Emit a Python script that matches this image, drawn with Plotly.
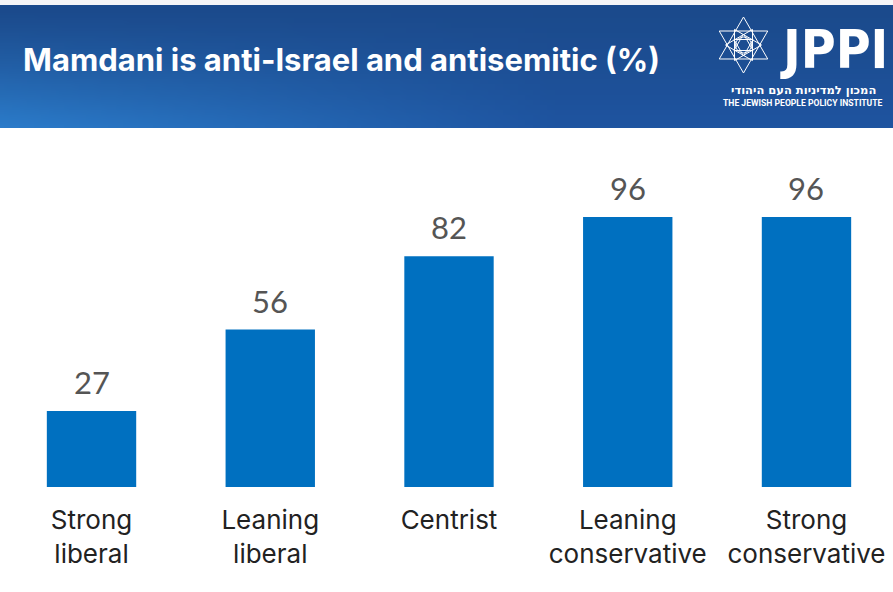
import base64, struct, zlib, math
import plotly.graph_objects as go

categories = ["Strong<br>liberal", "Leaning<br>liberal", "Centrist", "Leaning<br>conservative", "Strong<br>conservative"]
values = [27, 56, 82, 96, 96]
title_text = "Mamdani is anti-Israel and antisemitic (%)"

W, H = 893, 592
def px(x): return x / W
def py(y): return 1 - y / H

# ---- gradient header image (tiny PNG built in memory) ----
def make_png(w, h, pixel):
    raw = b""
    for j in range(h):
        row = bytearray([0])
        for i in range(w):
            row += bytes(pixel(i / (w - 1), j / (h - 1)))
        raw += bytes(row)
    def chunk(t, d):
        return struct.pack(">I", len(d)) + t + d + struct.pack(">I", zlib.crc32(t + d) & 0xffffffff)
    return (b"\x89PNG\r\n\x1a\n" + chunk(b"IHDR", struct.pack(">IIBBBBB", w, h, 8, 2, 0, 0, 0))
            + chunk(b"IDAT", zlib.compress(raw)) + chunk(b"IEND", b""))

top = (27, 74, 140)
bl = (43, 123, 201)
br = (30, 84, 160)
def grad(u, v):
    bottom = [bl[k] + (br[k] - bl[k]) * min(1.0, u * 1.6) for k in range(3)]
    t = v ** 1.2
    return [int(round(top[k] + (bottom[k] - top[k]) * t)) for k in range(3)]

png = make_png(120, 24, grad)
src = "data:image/png;base64," + base64.b64encode(png).decode()

fig = go.Figure(go.Bar(
    x=list(range(len(categories))), y=values, width=0.5,
    marker=dict(color="#0070c0", line=dict(width=0)),
    hoverinfo="skip",
))

annotations = []
for i, v in enumerate(values):
    annotations.append(dict(x=i, y=v, xref="x", yref="y", text=str(v), showarrow=False,
                            yanchor="bottom", yshift=8,
                            font=dict(family="Lato, Noto Sans, sans-serif", size=31, color="#555555")))

# title
annotations.append(dict(x=px(21), y=py(59), xref="paper", yref="paper", xanchor="left", yanchor="middle",
                        text="<b>" + title_text + "</b>", showarrow=False,
                        font=dict(family="Inter, Roboto, sans-serif", size=31, color="white")))
# logo texts
annotations.append(dict(x=px(834), y=py(50), xref="paper", yref="paper", xanchor="center", yanchor="middle",
                        text="<b>JPPI</b>", showarrow=False,
                        font=dict(family="DejaVu Sans Condensed, Liberation Sans Narrow, Roboto, sans-serif", size=53, color="white")))
annotations.append(dict(x=px(803), y=py(90), xref="paper", yref="paper", xanchor="center", yanchor="middle",
                        text="<b>המכון למדיניות העם היהודי</b>", showarrow=False,
                        font=dict(family="DejaVu Sans, sans-serif", size=11.5, color="white")))
annotations.append(dict(x=px(803), y=py(103), xref="paper", yref="paper", xanchor="center", yanchor="middle",
                        text="<b>THE JEWISH PEOPLE POLICY INSTITUTE</b>", showarrow=False,
                        font=dict(family="Roboto, sans-serif", size=8.6, color="white")))

shapes = [dict(type="rect", xref="paper", yref="paper", x0=0, x1=1, y0=py(5), y1=1,
               fillcolor="#f5f5f7", line=dict(width=0), layer="below")]

def star_path(cx, cy, r, rot):
    paths = []
    for off in (0, 180):
        pts = []
        for k in range(3):
            a = math.radians(rot + off + 120 * k)
            pts.append((px(cx + r * math.sin(a)), py(cy - r * math.cos(a))))
        paths.append("M %f %f L %f %f L %f %f Z" % (pts[0] + pts[1] + pts[2]))
    return " ".join(paths)

cx, cy = 743.5, 45
for r, rot in ((28, 0), (18, 30), (11, 0)):
    shapes.append(dict(type="path", xref="paper", yref="paper", path=star_path(cx, cy, r, rot),
                       line=dict(color="white", width=1)))
shapes.append(dict(type="circle", xref="paper", yref="paper",
                   x0=px(cx - 8), x1=px(cx + 8), y0=py(cy + 8), y1=py(cy - 8),
                   line=dict(color="white", width=1)))

fig.update_layout(
    width=W, height=H,
    margin=dict(l=0, r=0, t=0, b=0),
    paper_bgcolor="white", plot_bgcolor="white",
    showlegend=False,
    images=[dict(source=src, xref="paper", yref="paper", x=0, y=py(5), sizex=1, sizey=(123) / H,
                 xanchor="left", yanchor="top", sizing="stretch", layer="below")],
    shapes=shapes,
    annotations=annotations,
    xaxis=dict(domain=[0, 1], range=[-0.512, 4.484], tickmode="array",
               tickvals=list(range(len(categories))), ticktext=categories,
               showgrid=False, zeroline=False, showline=False, ticks="",
               tickfont=dict(family="Inter, Noto Sans, sans-serif", size=26, color="#222222"),
               ticklabelstandoff=15, automargin=False),
    yaxis=dict(domain=[(H - 487) / H, (H - 128) / H], range=[0, 359 / 2.8125],
               showgrid=False, zeroline=False, showline=False, showticklabels=False, ticks="",
               automargin=False),
    hovermode=False,
)

fig.write_html("out.html", config=dict(displayModeBar=False))
